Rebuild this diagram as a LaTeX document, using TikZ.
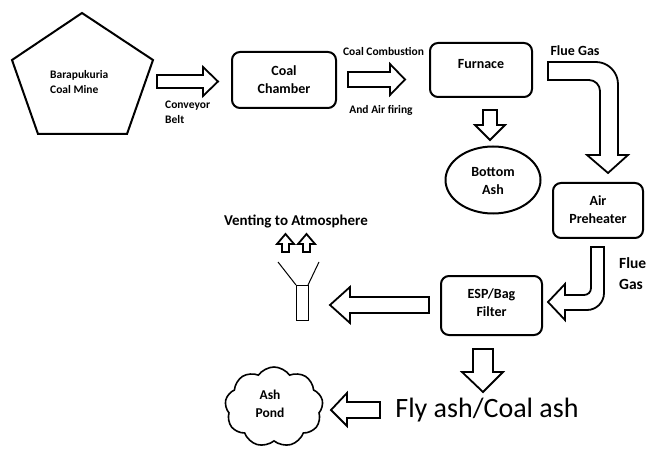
\documentclass[tikz,border=0pt]{standalone}
\usepackage{fontspec}
\setmainfont{Carlito}
\usetikzlibrary{shapes.geometric,shapes.symbols}
\begin{document}
\begin{tikzpicture}[x=1pt,y=-1pt,
  box/.style={draw,line width=2pt,rounded corners=8pt,inner sep=0pt},
  blk/.style={draw,line width=1.8pt,line join=miter,fill=white},
  lbl/.style={font=\bfseries\fontsize{14}{18}\selectfont,align=center,inner sep=0pt},
  sml/.style={font=\bfseries\fontsize{11.5}{15}\selectfont,align=left,inner sep=0pt}]
\useasboundingbox (0,0) rectangle (648,449);

% Coal mine pentagon
\draw[line width=2pt,line join=miter] (82,13) coordinate (m1) -- (153,60) coordinate (m2) -- (127,134) coordinate (m3) -- (38,134) coordinate (m4) -- (12,60) coordinate (m5) -- cycle;
\node[sml,anchor=west] (mine) at (50,82) {Barapukuria\\Coal Mine};

% boxes
\node[box,minimum width=104pt,minimum height=56pt] (chamber) at (284,80) {};
\node[lbl] (chamberT) at (284,80) {Coal\\Chamber};
\node[box,minimum width=102pt,minimum height=54pt] (furnace) at (481,70) {};
\node[lbl] (furnaceT) at (481,64) {Furnace};
\node[draw,ellipse,line width=2pt,minimum width=95pt,minimum height=67pt,inner sep=0pt] (bash) at (493,180) {};
\node[lbl] (bashT) at (493,181) {Bottom\\Ash};
\node[box,minimum width=90pt,minimum height=55pt] (aph) at (598,210.5) {};
\node[lbl] (aphT) at (598,210) {Air\\Preheater};
\node[box,minimum width=101pt,minimum height=59pt] (esp) at (491.5,305.5) {};
\node[lbl] (espT) at (491.5,303) {ESP/Bag\\Filter};
\node[cloud,draw,line width=1.6pt,cloud puffs=9,cloud puff arc=110,aspect=1.2,minimum width=98pt,minimum height=80pt,inner sep=0pt] (pond) at (274,407) {};
\node[lbl,font=\bfseries\fontsize{13.5}{18}\selectfont] (pondT) at (270,404) {Ash\\Pond};

% labels
\node[sml,anchor=west] (conv) at (165,112.5) {Conveyor\\Belt};
\node[sml,anchor=center] (comb) at (383.5,52) {Coal Combustion};
\node[sml,anchor=center] (fire) at (381,110) {And Air firing};
\node[lbl] (flue1) at (575,51) {Flue Gas};
\node[lbl,align=left,anchor=west,font=\bfseries\fontsize{15.5}{21}\selectfont] (flue2) at (619,274) {Flue\\Gas};
\node[lbl,font=\bfseries\fontsize{15}{18}\selectfont] (vent) at (296,221) {Venting to Atmosphere};
\node[inner sep=0pt,font=\fontsize{28}{30}\selectfont] (fly) at (487,410) {Fly ash/Coal ash};

% block arrows
\draw[blk] (157,75) -- (203,75) -- (203,67) -- (218,81.5) -- (203,96) -- (203,88) -- (157,88) -- cycle;
\draw[blk] (348,72) -- (390,72) -- (390,64) -- (405,79.5) -- (390,95) -- (390,87) -- (348,87) -- cycle;
\draw[blk] (548,62) -- (596,62) .. controls (608,62) and (618,72) .. (618,84) -- (618,155) -- (628,155) -- (608,173) -- (587,155) -- (600,155) -- (600,91) .. controls (600,85) and (595,80) .. (589,80) -- (548,80) -- cycle;
\draw[blk] (483,110) -- (497,110) -- (497,125) -- (505,125) -- (490,140) -- (475,125) -- (483,125) -- cycle;
\draw[blk] (591,247) -- (604,247) -- (604,293) .. controls (604,302.4) and (596.4,310) .. (587,310) -- (565,310) -- (565,320) -- (548,302) -- (565,284) -- (565,295) -- (584,295) .. controls (588,295) and (591,292) .. (591,288) -- cycle;
\draw[blk] (429,297) -- (350,297) -- (350,287) -- (330,305) -- (350,323) -- (350,313) -- (429,313) -- cycle;
\draw[blk] (473,349) -- (493,349) -- (493,372) -- (503,372) -- (483,392) -- (462,372) -- (473,372) -- cycle;
\draw[blk] (380,402) -- (347,402) -- (347,393) -- (331,410) -- (347,426) -- (347,418) -- (380,418) -- cycle;

% small up arrows
\draw[blk] (282,252) -- (282,244) -- (277,244) -- (285.5,234) -- (294,244) -- (289,244) -- (289,252) -- cycle;
\draw[blk] (303,252) -- (303,244) -- (298,244) -- (306.5,234) -- (315,244) -- (310,244) -- (310,252) -- cycle;

% chimney
\draw[line width=1pt] (278,262) -- (296,285) (319,262) -- (308,285);
\draw[line width=1pt] (296,285) rectangle (308,320);
\end{tikzpicture}
\end{document}
